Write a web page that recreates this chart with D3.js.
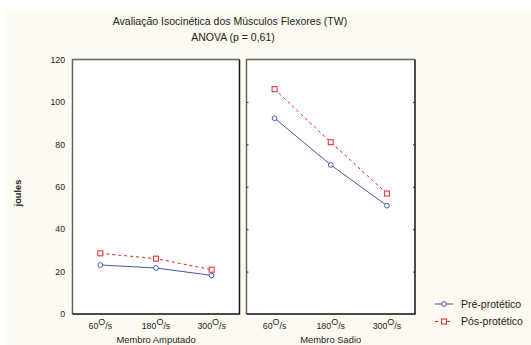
<!DOCTYPE html>
<html><head><meta charset="utf-8">
<script src="https://cdn.jsdelivr.net/npm/d3@7"></script>
<style>body{margin:0;background:#fff;}svg{display:block;font-family:"Liberation Sans",Arial,sans-serif;}</style>
</head><body>
<svg id="c" width="531" height="345"></svg>
<script>
const speeds = ["60", "180", "300"];
const panels = ["Membro Amputado", "Membro Sadio"];
const seriesNames = ["Pré-protético", "Pós-protético"];
const preAmputado = [23.1, 21.7, 18.2];
const posAmputado = [28.6, 26.1, 20.9];
const preSadio = [92.3, 70.3, 51.1];
const posSadio = [106.0, 81.0, 56.8];
const yTicks = [0, 20, 40, 60, 80, 100, 120];
const title1 = "Avaliação Isocinética dos Músculos Flexores (TW)";
const title2 = "ANOVA (p = 0,61)";
const yLabel = "joules";

const data = [
  {panel: panels[0], pre: preAmputado, pos: posAmputado},
  {panel: panels[1], pre: preSadio, pos: posSadio}
];
const colors = {pre: "#4256ad", pos: "#e8202a"};

const svg = d3.select("#c");
svg.append("rect").attr("x", 4).attr("y", 9).attr("width", 527).attr("height", 336).attr("fill", "#fdfaf1");

const plotTop = 59.5, plotBottom = 314;
const y = d3.scaleLinear().domain([0, 120]).range([plotBottom, plotTop]);
const panelX = [[72.5, 239.5], [246.5, 415]];

// titles
svg.append("text").attr("x", 230).attr("y", 25).attr("text-anchor", "middle").attr("font-size", 10.5).attr("fill", "#222").text(title1);
svg.append("text").attr("x", 233).attr("y", 40.5).attr("text-anchor", "middle").attr("font-size", 10.5).attr("fill", "#222").text(title2);

// y axis labels
svg.append("g").attr("transform", "translate(68,0)")
  .call(d3.axisLeft(y).tickValues(yTicks).tickSize(0).tickPadding(3))
  .call(g => g.select(".domain").remove())
  .call(g => g.selectAll("text").attr("font-size", 8.7).attr("fill", "#222").attr("font-family", "Liberation Sans, Arial, sans-serif"));

svg.append("text").attr("transform", "translate(20.5,193) rotate(-90)").attr("text-anchor", "middle")
  .attr("font-size", 9.3).attr("font-weight", "bold").attr("fill", "#222").text(yLabel);

data.forEach((d, i) => {
  const [x0, x1] = panelX[i];
  const x = d3.scalePoint().domain(speeds).range([x0, x1]).padding(0.5);
  const g = svg.append("g");
  g.append("rect").attr("x", x0).attr("y", plotTop).attr("width", x1 - x0).attr("height", plotBottom - plotTop).attr("fill", "#fff");
  g.append("path").attr("d", `M${x0},${plotBottom}V${plotTop}H${x1}`).attr("fill", "none").attr("stroke", "#666").attr("stroke-width", 1.5);
  g.append("path").attr("d", `M${x1},${plotTop}V${plotBottom}H${x0}`).attr("fill", "none").attr("stroke", "#111").attr("stroke-width", 1.5);
  if (i === 1) {
    g.append("g").attr("transform", `translate(${x0},0)`)
      .call(d3.axisRight(y).tickValues(yTicks.slice(1, -1)).tickSize(2).tickFormat(""))
      .call(a => a.select(".domain").remove())
      .call(a => a.selectAll("line").attr("stroke", "#333"));
    g.append("g").attr("transform", `translate(${x1},0)`)
      .call(d3.axisLeft(y).tickValues(yTicks.slice(1, -1)).tickSize(2).tickFormat(""))
      .call(a => a.select(".domain").remove())
      .call(a => a.selectAll("line").attr("stroke", "#333"));
  }
  const line = d3.line().x((v, k) => x(speeds[k])).y(v => y(v));
  g.append("path").attr("d", line(d.pos)).attr("fill", "none").attr("stroke", colors.pos).attr("stroke-width", 1).attr("stroke-dasharray", "3,3");
  g.append("path").attr("d", line(d.pre)).attr("fill", "none").attr("stroke", colors.pre).attr("stroke-width", 1);
  d.pre.forEach((v, k) => g.append("circle").attr("cx", x(speeds[k])).attr("cy", y(v)).attr("r", 2.4).attr("fill", "#fff").attr("stroke", colors.pre).attr("stroke-width", 1));
  d.pos.forEach((v, k) => g.append("rect").attr("x", x(speeds[k]) - 2.5).attr("y", y(v) - 2.5).attr("width", 5).attr("height", 5).attr("fill", "#fff").attr("stroke", colors.pos).attr("stroke-width", 1));
  speeds.forEach(s => {
    const t = g.append("text").attr("x", x(s)).attr("y", 328.5).attr("text-anchor", "middle").attr("font-size", 8.8).attr("fill", "#222");
    t.append("tspan").text(s);
    t.append("tspan").attr("dy", -3.5).attr("font-size", 9).text("O");
    t.append("tspan").attr("dy", 3.5).text("/s");
  });
  g.append("text").attr("x", (x0 + x1) / 2).attr("y", 342.5).attr("text-anchor", "middle").attr("font-size", 9.4).attr("fill", "#222").text(d.panel);
});

const leg = svg.append("g");
[["pre", 304], ["pos", 321.5]].forEach(([k, ly], i) => {
  leg.append("line").attr("x1", 435).attr("x2", 453).attr("y1", ly).attr("y2", ly).attr("stroke", colors[k]).attr("stroke-width", 1)
    .attr("stroke-dasharray", k === "pos" ? "3,3" : null);
  if (k === "pre") leg.append("circle").attr("cx", 444).attr("cy", ly).attr("r", 2.4).attr("fill", "#fff").attr("stroke", colors[k]);
  else leg.append("rect").attr("x", 441.5).attr("y", ly - 2.5).attr("width", 5).attr("height", 5).attr("fill", "#fff").attr("stroke", colors[k]);
  leg.append("text").attr("x", 461).attr("y", ly + 3.7).attr("font-size", 10.5).attr("fill", "#222").text(seriesNames[i]);
});
</script>
</body></html>
